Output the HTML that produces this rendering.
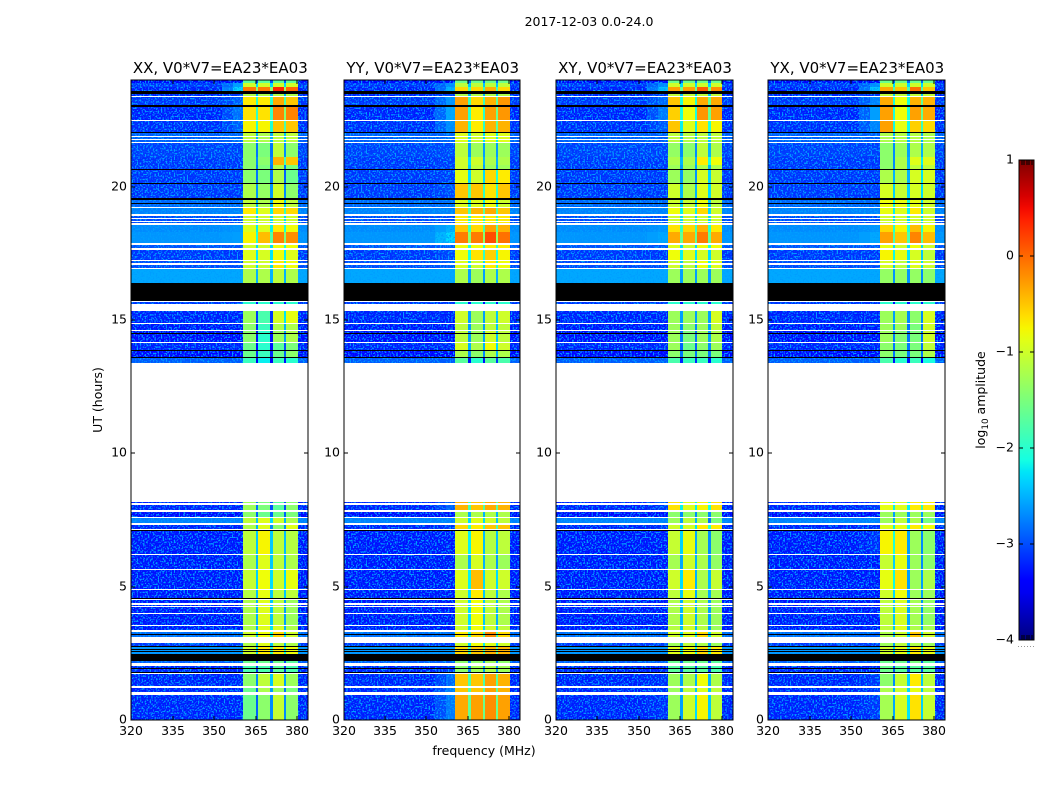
<!DOCTYPE html>
<html>
<head>
<meta charset="utf-8">
<title>2017-12-03 0.0-24.0</title>
<style>
html,body{margin:0;padding:0;background:#fff;}
svg{display:block;}
text{font-family:"DejaVu Sans","Liberation Sans",sans-serif;fill:#000;}
</style>
</head>
<body>
<svg id="figure" xmlns="http://www.w3.org/2000/svg" width="1050" height="800" viewBox="0 0 1050 800">
<defs>
<filter id="speckle" x="0" y="0" width="100%" height="100%" color-interpolation-filters="sRGB">
<feTurbulence type="fractalNoise" baseFrequency="0.62" numOctaves="1" seed="4"/>
<feColorMatrix type="matrix" values="0 0 0 0 0  0 0 0 0 0.62  0 0 0 0 1  7 0 0 0 -3.5"/>
</filter>
<linearGradient id="jet-gradient" x1="0" y1="1" x2="0" y2="0"></linearGradient>
</defs>
<text x="589" y="26" font-size="12.5" text-anchor="middle">2017-12-03 0.0-24.0</text>
<text x="484" y="755" font-size="12.5" text-anchor="middle">frequency (MHz)</text>
<text x="0" y="0" font-size="12.5" text-anchor="middle" transform="translate(102,400) rotate(-90)">UT (hours)</text>
<text x="0" y="0" font-size="12.5" text-anchor="middle" transform="translate(985,400) rotate(-90)">log<tspan dy="3" font-size="8.8">10</tspan><tspan dy="-3"> amplitude</tspan></text>
<g id="panels"></g>
<g id="colorbar"></g>
</svg>
<script>
// ---------- data ----------
const titles = ["XX, V0*V7=EA23*EA03", "YY, V0*V7=EA23*EA03", "XY, V0*V7=EA23*EA03", "YX, V0*V7=EA23*EA03"];
const xTicks = [320, 335, 350, 365, 380];
const yTicks = [0, 5, 10, 15, 20];
const colorTicks = [-4, -3, -2, -1, 0, 1];
const xDomain = [320, 384];
const yDomain = [0, 24];
const colorDomain = [-4, 1];
// frequency channel groups (MHz)
const freqEdges = [320, 353, 357, 360.5, 365, 366, 370.4, 371.2, 375.2, 376, 380.2, 384];
// UT row boundaries (hours)
const rowEdges = [0,.94,1.28,1.77,2.03,2.47,2.76,3.1,3.3,3.56,4.5,4.9,5.65,6.2,7.1,7.4,7.6,7.85,8.18,13.4,13.6,13.85,14.15,14.6,14.87,15.34,15.73,16.37,16.93,17.23,17.65,17.85,18.3,18.6,18.95,19.22,19.5,20.12,20.65,20.8,21.1,21.66,22.03,22.48,23.02,23.38,23.59,23.72,23.89,24];
// background log10 amplitude for each row
const background = [-3.25,-3.25,-3.25,-3.25,-2.95,-2.65,-3.15,-2.85,-3.3,-3.3,-3.3,-3.3,-3.3,-3.3,-3.25,-2.75,-3.35,-3.25,-3.15,-2.95,-3.4,-3.25,-3.35,-3.3,-3.25,-3.15,-3.15,-2.55,-3.05,-3.15,-3,-2.65,-2.7,-3.05,-2.75,-2.9,-3.15,-3.15,-3.15,-3.15,-3.1,-2.95,-3.2,-3.25,-3.15,-3.25,-3.25,-3.15,-3.45];
// per row: [shoulder, band1, band2, band3, band4]
const levelsXX = [
[-3.25,-1.6,-1.4,-1.05,-1.4],[-3.25,-1.6,-1.2,-1.3,-1.5],[-3.25,-1.4,-1.1,-.95,-1.3],[-3.25,-1.8,-1.8,-1.7,-1.8],[-2.95,-1.6,-1.6,-1.6,-1.7],
[-2.65,-1,-.7,-.7,-.8],[-3.15,-1.2,-.9,-1.1,-1.2],[-2.85,-1,-.8,-.6,-1],[-3.3,-1.2,-.9,-.95,-1.2],[-3.3,-1.2,-.9,-1.1,-1.3],
[-3.3,-1.15,-.85,-1.1,-1.1],[-3.3,-1.05,-.8,-1,-.85],[-3.3,-1.2,-.9,-1.1,-1.2],[-3.3,-1.1,-.75,-1.1,-1.15],[-3.25,-1.2,-.9,-1.4,-.9],
[-2.75,-1.1,-.9,-1,-1.2],[-3.35,-1.4,-1.6,-1.6,-1.5],[-3.25,-1.3,-1.5,-1.7,-1.4],[-3,-3,-3,-3,-3],[-2.95,-1.9,-2.2,-1.9,-2],
[-3.4,-1.6,-1.9,-1.6,-1.4],[-3.25,-1.6,-2,-1.7,-1.5],[-3.35,-1.4,-2,-1.3,-1.2],[-3.3,-1.4,-1.9,-1.2,-1.2],[-3.25,-1.3,-1.8,-.95,-.85],
[-3.15,-2,-2,-2,-2],[-3,-3,-3,-3,-3],[-2.55,-1.2,-1.2,-1.1,-1.2],[-3.05,-1,-1,-.7,-.8],[-3.15,-.9,-.95,-.8,-.9],
[-3,-1,-1,-.8,-.8],[-2.6,-.75,-.45,-.15,-.2],[-2.65,-.9,-.9,-.7,-.8],[-3.05,-1,-1,-1,-1],[-2.75,-.7,-.9,-.6,-.6],
[-2.9,-1.1,-1.2,-.8,-1.1],[-3.15,-1.2,-1.35,-1,-1.4],[-3.15,-1.4,-1.5,-1.2,-1.6],[-3.15,-1.4,-1.5,-1.2,-1.5],[-3.15,-1.4,-1.4,-.4,-.5],
[-3.1,-1.4,-1.5,-1.1,-1.4],[-2.9,-1.1,-1.2,-1.1,-1.1],[-2.95,-.75,-.75,-.5,-.5],[-2.85,-.65,-.65,-.15,-.15],[-2.95,-.7,-.7,-.35,-.5],
[-3.15,-1.2,-1.2,-1.2,-1.2],[-2.3,-.1,-.1,.35,0],[-2.6,-1,-1,-1,-1],[-3.45,-1.7,-1.7,-1.7,-1.7]];
const levelsYY = [
[-2.8,-.35,-.3,-.2,-.3],[-2.8,-.5,-.5,-.3,-.4],[-2.9,-.5,-.5,-.3,-.4],[-3.15,-1.4,-1.3,-1.2,-1.3],[-2.95,-1.4,-1.4,-1.3,-1.4],
[-2.65,-.6,-.5,-.4,-.4],[-3.15,-1,-.8,-.9,-1],[-2.85,-.7,-.6,-.2,-.6],[-3.3,-1,-.8,-1,-1.1],[-3.3,-1,-.8,-1.1,-1.2],
[-3.3,-1,-.7,-1.1,-1.2],[-3.3,-.9,-.45,-1,-1],[-3.3,-1.2,-.95,-1.2,-1.3],[-3.3,-.9,-.75,-1.15,-1.1],[-3.15,-.6,-.7,-.5,-.5],
[-2.75,-1,-.9,-1,-1.1],[-3.35,-1.2,-1.2,-1.2,-1.2],[-2.95,-.4,-.5,-.35,-.4],[-3,-3,-3,-3,-3],[-2.95,-1.7,-2,-1.7,-1.8],
[-3.4,-1.2,-1.4,-1.2,-1.2],[-3.25,-.95,-1.2,-.8,-1],[-3.35,-1.1,-1.3,-1,-1.1],[-3.3,-1.1,-1.3,-1.1,-1.1],[-3.25,-1,-1.3,-1.1,-1],
[-3.15,-2,-2,-2,-2],[-3,-3,-3,-3,-3],[-2.55,-1.2,-1.3,-1.2,-1.2],[-2.95,-.9,-1,-.7,-.8],[-3.05,-.8,-.65,-.55,-.75],
[-2.95,-.8,-.8,-.7,-.7],[-2.3,-.1,-.1,.15,-.05],[-2.5,-.5,-.6,-.3,-.4],[-3.05,-.7,-.7,-.7,-.7],[-2.75,-.5,-.4,-.35,-.5],
[-2.85,-.9,-.9,-.8,-1],[-3.05,-.5,-.5,-.65,-.5],[-3.1,-.85,-1,-.6,-.7],[-3.1,-1,-1.1,-1.3,-1.3],[-3.1,-1,-1,-1.2,-1.2],
[-3.05,-1.1,-1.3,-1.3,-1.3],[-2.9,-.9,-1,-.9,-.9],[-2.7,-.4,-.7,-.4,-.4],[-2.55,-.3,-.7,-.3,-.25],[-2.65,-.3,-.6,-.4,-.25],
[-3.15,-1.2,-1.2,-1.2,-1.2],[-2.5,-.6,-.6,-.4,-.6],[-2.7,-1.1,-1.1,-1.1,-1.1],[-3.45,-1.6,-1.6,-1.6,-1.6]];
const levelsXY = [
[-3.2,-1.3,-1,-.75,-1.1],[-3.2,-1.3,-1.1,-.9,-1.1],[-3.2,-1.3,-1.2,-.8,-1.2],[-3.25,-1.7,-1.7,-1.7,-1.8],[-2.95,-1.6,-1.6,-1.6,-1.7],
[-2.65,-.9,-.8,-.6,-.7],[-3.15,-1.3,-1.1,-1.2,-1.3],[-2.9,-1,-.9,-.6,-1],[-3.3,-1.15,-1,-1.15,-1.3],[-3.3,-1.2,-1,-1.2,-1.3],
[-3.3,-1.1,-.85,-1.25,-1.25],[-3.3,-1,-.7,-1.2,-1.05],[-3.3,-1.25,-1,-1.2,-1.35],[-3.3,-1.05,-.85,-1.25,-1.4],[-3.2,-1,-.95,-.7,-.7],
[-2.75,-1.3,-1.1,-1.2,-1.5],[-3.35,-1.4,-1.4,-1.4,-1.4],[-3.15,-.65,-.9,-.75,-.65],[-3,-3,-3,-3,-3],[-2.95,-1.8,-1.9,-1.9,-2],
[-3.4,-1.4,-1.5,-1.5,-1.5],[-3.25,-1.3,-1.6,-1.4,-1.3],[-3.35,-1.3,-1.5,-1.3,-1.2],[-3.3,-1.3,-1.4,-1.3,-1.1],[-3.25,-1.3,-1.3,-1.3,-.95],
[-3.15,-2,-2,-2,-2],[-3,-3,-3,-3,-3],[-2.55,-1.3,-1.3,-1.3,-1.3],[-3.05,-1,-1.1,-.8,-.9],[-3.15,-.8,-.9,-.95,-1],
[-3,-.9,-1,-.8,-.8],[-2.55,-.35,-.35,-.1,-.35],[-2.65,-.65,-.6,-.4,-.7],[-3.05,-1,-1,-1,-1],[-2.75,-.8,-.9,-.6,-1],
[-2.9,-1,-1.05,-.8,-1.1],[-3.15,-1,-1.2,-.9,-1],[-3.15,-1.3,-1.35,-.95,-1.05],[-3.15,-1.3,-1.3,-1.2,-1.2],[-3.15,-1.2,-1.2,-.7,-.8],
[-3.1,-1.35,-1.4,-1.1,-1.2],[-2.95,-1.1,-1.15,-1.1,-1.1],[-3,-.5,-.9,-.65,-.75],[-2.8,-.55,-.8,-.25,-.3],[-2.9,-.5,-.75,-.35,-.35],
[-3.15,-1.1,-1.1,-1.1,-1.1],[-2.4,-.3,-.3,.05,-.2],[-2.7,-1,-1,-1,-1],[-3.45,-1.6,-1.6,-1.6,-1.6]];
const levelsYX = [
[-3.15,-1.25,-.95,-.65,-1.05],[-3.15,-1.2,-1,-.85,-1.1],[-3.15,-1.4,-1.05,-.7,-1.1],[-3.25,-1.6,-1.7,-1.7,-1.7],[-2.95,-1.6,-1.6,-1.5,-1.7],
[-2.65,-1,-.85,-.7,-.85],[-3.15,-1.3,-1.1,-1.2,-1.3],[-2.9,-1.2,-1,-.5,-1],[-3.3,-1.1,-.9,-1.2,-1.25],[-3.3,-1.1,-.95,-1.25,-1.35],
[-3.3,-1,-.8,-1.3,-1.3],[-3.3,-.85,-.65,-1.3,-1.2],[-3.3,-1.05,-.85,-1.3,-1.4],[-3.2,-.75,-.7,-1.3,-1.4],[-3.2,-.9,-.85,-.7,-.8],
[-2.75,-1.3,-1.1,-1.2,-1.5],[-3.35,-1.3,-1.3,-1.3,-1.3],[-3.15,-.85,-.9,-.7,-.7],[-3,-3,-3,-3,-3],[-2.95,-1.8,-2,-1.9,-2.1],
[-3.4,-1.4,-1.5,-1.5,-1.2],[-3.25,-1.4,-1.5,-1.5,-1.1],[-3.35,-1.3,-1.45,-1.5,-1],[-3.3,-1.3,-1.3,-1.5,-1],[-3.25,-1.3,-1.25,-1.4,-.95],
[-3.15,-2,-2,-2,-2],[-3,-3,-3,-3,-3],[-2.55,-1.35,-1.35,-1.35,-1.4],[-3.05,-.95,-1.1,-.9,-1],[-3.15,-.75,-.85,-.95,-1.1],
[-3,-.85,-1,-.8,-1],[-2.55,-.3,-.5,-.15,-.45],[-2.65,-.6,-.75,-.45,-.75],[-3.05,-1,-1,-1,-1],[-2.75,-.85,-.9,-.7,-1],
[-2.9,-.8,-.85,-.85,-1],[-3.15,-.95,-1.05,-.95,-1],[-3.15,-1.2,-1.2,-.95,-.95],[-3.15,-1.4,-1.2,-1.1,-1.1],[-3.15,-1.4,-1.2,-.9,-.9],
[-3.1,-1.4,-1.3,-1.2,-1.2],[-2.95,-1.2,-1.15,-1.15,-1.2],[-2.75,-.3,-.85,-.55,-.6],[-2.6,-.3,-.8,-.3,-.35],[-2.75,-.35,-.8,-.4,-.4],
[-3.15,-1.1,-1.1,-1.1,-1.1],[-2.4,-.35,-.5,-.05,-.5],[-2.7,-1,-1,-1,-1],[-3.45,-1.6,-1.6,-1.6,-1.6]];
const panelLevels = [levelsXX, levelsYY, levelsXY, levelsYX];
// how far the narrow notches between bands sit below their neighbours
const notchDrop = 1.3;
// flagged time ranges (hours): no data
const flaggedEmpty = [[23.36,23.40],[22.46,22.50],[21.86,21.90],[21.74,21.78],[21.64,21.68],[19.20,19.24],[18.90,18.96],[18.77,18.81],[18.68,18.73],[18.58,18.62],[17.83,17.87],[17.63,17.71],[17.21,17.25],[17.08,17.12],[16.91,16.95],[15.66,15.73],[15.34,15.61],[14.84,14.87],[14.59,14.63],[14.14,14.18],[8.18,13.40],[8.06,8.12],[7.81,7.88],[7.58,7.62],[7.31,7.40],[7.07,7.16],[6.19,6.23],[5.63,5.66],[4.88,4.91],[4.49,4.53],[4.33,4.37],[4.24,4.28],[3.98,4.01],[3.53,3.56],[3.30,3.38],[2.88,3.10],[2.03,2.15],[1.74,1.77],[1.20,1.28],[0.94,1.06]];
// flagged time ranges (hours): zero amplitude
const flaggedZero = [[23.48,23.59],[22.99,23.06],[22.01,22.05],[20.63,20.67],[20.10,20.14],[19.50,19.58],[19.34,19.37],[15.73,16.37],[14.48,14.50],[13.85,13.87],[13.58,13.60],[7.11,7.13],[4.56,4.59],[3.19,3.24],[2.72,2.76],[2.63,2.66],[2.55,2.58],[2.22,2.47],[1.91,1.96],[1.77,1.81]];

// ---------- layout ----------
const NS = 'http://www.w3.org/2000/svg';
const panelLefts = [131.2, 343.6, 555.9, 768.2];
const panelWidth = 176.8;
const plotTop = 80, plotBottom = 720;
const barLeft = 1019, barRight = 1034, barTop = 160, barBottom = 640;

function node(tag, parent, attrs) {
  const el = document.createElementNS(NS, tag);
  for (const k in attrs) el.setAttribute(k, attrs[k]);
  parent.appendChild(el);
  return el;
}
function xScale(left, mhz) { return left + (mhz - xDomain[0]) / (xDomain[1] - xDomain[0]) * panelWidth; }
function yScale(hour) { return plotBottom - (hour - yDomain[0]) / (yDomain[1] - yDomain[0]) * (plotBottom - plotTop); }
function colorY(v) { return barBottom - (v - colorDomain[0]) / (colorDomain[1] - colorDomain[0]) * (barBottom - barTop); }
function ramp(t, pts) {
  for (let i = 1; i < pts.length; i++) {
    if (t <= pts[i][0]) {
      const a = pts[i - 1], b = pts[i];
      return a[1] + (b[1] - a[1]) * (t - a[0]) / (b[0] - a[0]);
    }
  }
  return pts[pts.length - 1][1];
}
function jet(v) {
  const t = Math.max(0, Math.min(1, (v - colorDomain[0]) / (colorDomain[1] - colorDomain[0])));
  const r = ramp(t, [[0,0],[.35,0],[.66,1],[.89,1],[1,.5]]);
  const g = ramp(t, [[0,0],[.125,0],[.375,1],[.64,1],[.91,0],[1,0]]);
  const b = ramp(t, [[0,.5],[.11,1],[.34,1],[.65,0],[1,0]]);
  return 'rgb(' + Math.round(r * 255) + ',' + Math.round(g * 255) + ',' + Math.round(b * 255) + ')';
}
function cellValue(row, col, levels) {
  const bg = background[row], L = levels[row];
  switch (col) {
    case 0: return bg;
    case 1: return (bg + L[0]) / 2;
    case 2: return L[0];
    case 3: return L[1];
    case 4: return Math.min(L[1], L[2]) - notchDrop;
    case 5: return L[2];
    case 6: return Math.min(L[2], L[3]) - notchDrop;
    case 7: return L[3];
    case 8: return Math.min(L[3], L[4]) - notchDrop;
    case 9: return L[4];
    default: return bg;
  }
}

const panelsRoot = document.getElementById('panels');
panelLefts.forEach(function (left, p) {
  const levels = panelLevels[p];
  const g = node('g', panelsRoot, {});
  
  

  // heatmap cells
  for (let r = 0; r < rowEdges.length - 1; r++) {
    const y0 = Math.round(yScale(rowEdges[r + 1])), y1 = Math.round(yScale(rowEdges[r]));
    for (let c = 0; c < freqEdges.length - 1; c++) {
      const x0 = Math.round(xScale(left, freqEdges[c])), x1 = Math.round(xScale(left, freqEdges[c + 1]));
      const cell = node('rect', g, {x: x0, y: y0, width: x1 - x0, height: y1 - y0, fill: jet(cellValue(r, c, levels)), 'shape-rendering': 'crispEdges'});
      
      
    }
  }

  // channel noise over the out-of-band regions
  const n0 = Math.round(xScale(left, freqEdges[0])), n1 = Math.round(xScale(left, freqEdges[3]));
  const noiseLeft = node('rect', g, {x: n0, y: plotTop, width: n1 - n0, height: plotBottom - plotTop, filter: 'url(#speckle)'});
  
  
  const n2 = Math.round(xScale(left, freqEdges[10])), n3 = Math.round(xScale(left, freqEdges[11]));
  const noiseRight = node('rect', g, {x: n2, y: plotTop, width: n3 - n2, height: plotBottom - plotTop, filter: 'url(#speckle)'});
  
  

  // flagged rows
  const fx = Math.round(left), fw = Math.round(left + panelWidth) - fx;
  flaggedEmpty.forEach(function (f) {
    const y0 = Math.round(yScale(f[1])), h = Math.max(1, Math.round(yScale(f[0])) - y0);
    const band = node('rect', g, {x: fx, y: y0, width: fw, height: h, fill: '#fff', 'shape-rendering': 'crispEdges'});
    
    
  });
  flaggedZero.forEach(function (f) {
    const y0 = Math.round(yScale(f[1])), h = Math.max(1, Math.round(yScale(f[0])) - y0);
    const band = node('rect', g, {x: fx, y: y0, width: fw, height: h, fill: '#000', 'shape-rendering': 'crispEdges'});
    
    
  });

  // frame
  const frame = node('rect', g, {x: fx, y: plotTop, width: fw, height: plotBottom - plotTop, fill: 'none', stroke: '#000', 'stroke-width': 1});
  
  

  // x ticks
  xTicks.forEach(function (t) {
    const x = Math.round(xScale(left, t));
    const tb = node('line', g, {x1: x, x2: x, y1: plotBottom, y2: plotBottom - 4, stroke: '#000', 'shape-rendering': 'crispEdges'});
    
    
    const tt = node('line', g, {x1: x, x2: x, y1: plotTop, y2: plotTop + 4, stroke: '#000', 'shape-rendering': 'crispEdges'});
    
    
    const lab = node('text', g, {x: x, y: 735, 'font-size': 12.5, 'text-anchor': 'middle'});
    
    
    lab.textContent = t;
  });

  // y ticks
  yTicks.forEach(function (t) {
    const y = Math.round(yScale(t));
    const tl = node('line', g, {x1: fx, x2: fx + 4, y1: y, y2: y, stroke: '#000', 'shape-rendering': 'crispEdges'});
    
    
    const tr = node('line', g, {x1: fx + fw, x2: fx + fw - 4, y1: y, y2: y, stroke: '#000', 'shape-rendering': 'crispEdges'});
    
    
    const lab = node('text', g, {x: fx - 4, y: y + 3.5, 'font-size': 12.5, 'text-anchor': 'end'});
    
    
    lab.textContent = t;
  });

  // panel title
  const title = node('text', g, {x: left + panelWidth / 2 + 0.7, y: 73, 'font-size': 15, 'text-anchor': 'middle'});
  
  
  title.textContent = titles[p];
});

// ---------- colorbar ----------
const grad = document.getElementById('jet-gradient');
for (let i = 0; i <= 40; i++) {
  const v = colorDomain[0] + (colorDomain[1] - colorDomain[0]) * i / 40;
  node('stop', grad, {offset: (i / 40 * 100) + '%', 'stop-color': jet(v)});
}
const barRoot = document.getElementById('colorbar');
const barFill = node('rect', barRoot, {x: barLeft, y: barTop, width: barRight - barLeft, height: barBottom - barTop, fill: 'url(#jet-gradient)', stroke: '#000', 'stroke-width': 1});


colorTicks.forEach(function (t) {
  const y = Math.round(colorY(t));
  const a = node('line', barRoot, {x1: barLeft, x2: barLeft + 4, y1: y, y2: y, stroke: '#000', 'shape-rendering': 'crispEdges'});
  
  
  const b = node('line', barRoot, {x1: barRight, x2: barRight - 4, y1: y, y2: y, stroke: '#000', 'shape-rendering': 'crispEdges'});
  
  
  const lab = node('text', barRoot, {x: barLeft - 5, y: y + 3.5, 'font-size': 12.5, 'text-anchor': 'end'});
  
  
  lab.textContent = (t < 0 ? '\u2212' + Math.abs(t) : String(t));
});
[0, 1].forEach(function (end) {
  const y0 = end ? barBottom : barTop, y1 = end ? barBottom - 5 : barTop + 5;
  for (let i = 1; i <= 5; i++) {
    const x = barLeft + Math.round(i * (barRight - barLeft) / 6);
    const m = node('line', barRoot, {x1: x, x2: x, y1: y0, y2: y1, stroke: '#000', 'stroke-width': 1, 'shape-rendering': 'crispEdges'});
    
    
  }
});
const dots = node('line', barRoot, {x1: 1018, x2: 1035, y1: 646.5, y2: 646.5, stroke: '#999', 'stroke-width': 1, 'stroke-dasharray': '1 2', 'shape-rendering': 'crispEdges'});


</script>
</body>
</html>
